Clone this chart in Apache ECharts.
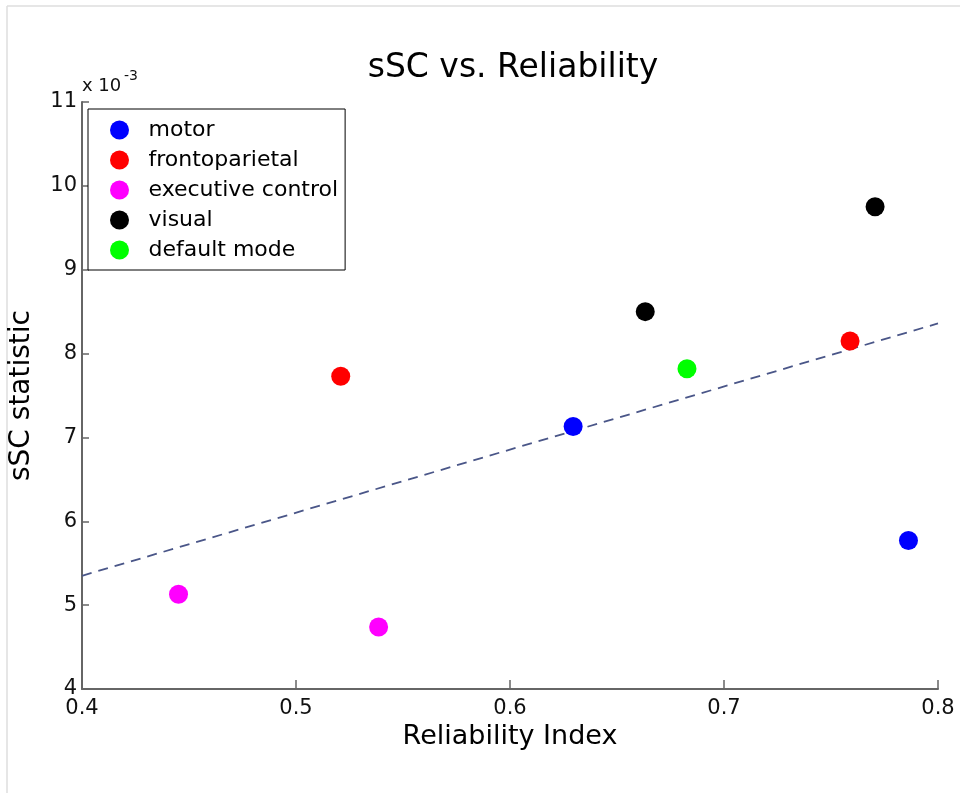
<!DOCTYPE html>
<html lang="en">
<head>
  <meta charset="UTF-8">
  <title>sSC vs. Reliability</title>
  <script src="https://cdn.jsdelivr.net/npm/echarts@6/dist/echarts.min.js"></script>
  <style>
    html, body { margin: 0; padding: 0; background: #fff; }
  </style>
</head>
<body>
  <div id="main" style="width: 960px;height:793px;"></div>
  <script>
    // values in units of 1e-3 (sSC statistic) vs reliability index
    const networks = ['motor', 'frontoparietal', 'executive control', 'visual', 'default mode'];
    const colors = ['#0000ff', '#ff0000', '#ff00ff', '#000000', '#00ff00'];
    const motor = [[0.6295, 7.13], [0.7862, 5.77]];
    const frontoparietal = [[0.5209, 7.73], [0.7589, 8.15]];
    const executiveControl = [[0.4451, 5.13], [0.5386, 4.74]];
    const visual = [[0.6632, 8.50], [0.7706, 9.75]];
    const defaultMode = [[0.6827, 7.82]];
    const fitLine = [[0.4, 5.35], [0.8, 8.36]];
    const xTicks = [0.4, 0.5, 0.6, 0.7, 0.8];
    const yTicks = [4, 5, 6, 7, 8, 9, 10, 11];

    const groups = [motor, frontoparietal, executiveControl, visual, defaultMode];
    const font = 'DejaVu Sans';

    const myChart = echarts.init(document.getElementById('main'));

    const series = groups.map((g, i) => ({
      name: networks[i],
      type: 'scatter',
      symbol: 'circle',
      symbolSize: 19,
      itemStyle: { color: colors[i], opacity: 1 },
      data: g,
      z: 3
    }));
    series.push({
      name: 'fit',
      type: 'line',
      data: fitLine,
      symbol: 'none',
      silent: true,
      lineStyle: { color: '#4a5688', width: 1.8, type: [10, 7] },
      z: 2
    });

    const options = {
      animation: false,
      title: {
        text: 'sSC vs. Reliability',
        left: 508,
        textAlign: 'center',
        top: 47,
        textStyle: { fontFamily: font, fontSize: 33, fontWeight: 'normal', color: '#000' }
      },
      grid: { left: 81, right: 22, top: 102, bottom: 104 },
      legend: {
        data: networks,
        orient: 'vertical',
        left: 88,
        top: 109,
        icon: 'circle',
        itemWidth: 48,
        itemHeight: 19,
        itemGap: 8,
        padding: [10, 7, 9, 22],
        backgroundColor: '#fff',
        borderColor: '#000',
        borderWidth: 1,
        textStyle: { fontFamily: font, fontSize: 22, color: '#000' }
      },
      xAxis: {
        type: 'value',
        min: 0.4,
        max: 0.8,
        interval: 0.1,
        name: 'Reliability Index',
        nameLocation: 'middle',
        nameGap: 34,
        nameTextStyle: { fontFamily: font, fontSize: 27, color: '#000' },
        axisLine: { lineStyle: { color: '#666', width: 2 } },
        axisTick: { inside: true, length: 9, lineStyle: { color: '#666', width: 1.5 } },
        axisLabel: {
          margin: 9,
          fontFamily: font, fontSize: 21, color: '#111',
          formatter: v => xTicks.includes(+v.toFixed(1)) ? v.toFixed(1) : ''
        },
        splitLine: { show: false }
      },
      yAxis: {
        type: 'value',
        min: 4,
        max: 11,
        interval: 1,
        name: 'sSC statistic',
        nameLocation: 'middle',
        nameGap: 46,
        nameTextStyle: { fontFamily: font, fontSize: 28, color: '#000' },
        axisLine: { lineStyle: { color: '#666', width: 2 } },
        axisTick: { inside: true, length: 7, lineStyle: { color: '#666', width: 1.5 } },
        axisLabel: {
          margin: 5,
          fontFamily: font, fontSize: 21, color: '#111',
          formatter: v => yTicks.includes(Math.round(v)) ? String(Math.round(v)) : ''
        },
        splitLine: { show: false }
      },
      graphic: [
        { type: 'line', shape: { x1: 7, y1: 6, x2: 960, y2: 6 }, style: { stroke: '#dedede', lineWidth: 1.5 } },
        { type: 'line', shape: { x1: 7, y1: 6, x2: 7, y2: 793 }, style: { stroke: '#dedede', lineWidth: 1.5 } },
        { type: 'text', left: 82, top: 77, style: { text: 'x 10', fontFamily: font, fontSize: 18, fill: '#111' } },
        { type: 'text', left: 124, top: 69, style: { text: '-3', fontFamily: font, fontSize: 14, fill: '#111' } }
      ],
      series: series
    };

    myChart.setOption(options);
  </script>
</body>
</html>
